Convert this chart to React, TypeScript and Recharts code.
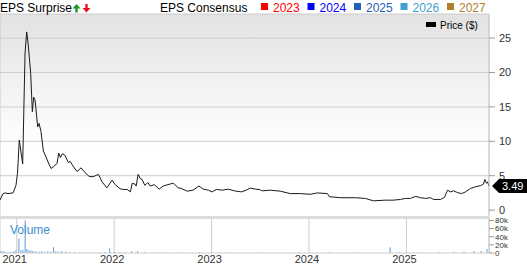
import { ComposedChart, Line, Bar, XAxis, YAxis, CartesianGrid } from 'recharts';

// price, decimal year -> $ close
const priceDates = [
  2020.828, 2020.859, 2020.879, 2020.91, 2020.962, 2020.992, 2021.008, 2021.026, 2021.061, 2021.085,
  2021.102, 2021.116, 2021.143, 2021.16, 2021.174, 2021.188, 2021.215, 2021.229, 2021.249, 2021.273,
  2021.301, 2021.321, 2021.352, 2021.376, 2021.414, 2021.431, 2021.448, 2021.468, 2021.493, 2021.53,
  2021.547, 2021.578, 2021.619, 2021.66, 2021.691, 2021.743, 2021.784, 2021.838, 2021.876, 2021.925,
  2021.979, 2022.01, 2022.061, 2022.092, 2022.133, 2022.167, 2022.185, 2022.212, 2022.226, 2022.246,
  2022.267, 2022.287, 2022.315, 2022.346, 2022.37, 2022.411, 2022.462, 2022.503, 2022.575, 2022.609,
  2022.657, 2022.688, 2022.75, 2022.811, 2022.87, 2022.914, 2022.966, 2023.007, 2023.048, 2023.11,
  2023.171, 2023.233, 2023.305, 2023.356, 2023.397, 2023.449, 2023.49, 2023.521, 2023.603, 2023.706,
  2023.808, 2023.911, 2024.014, 2024.086, 2024.189, 2024.209, 2024.322, 2024.476, 2024.579, 2024.661,
  2024.785, 2024.867, 2024.939, 2024.99, 2025.042, 2025.093, 2025.144, 2025.196, 2025.247, 2025.278,
  2025.35, 2025.391, 2025.422, 2025.453, 2025.483, 2025.525, 2025.566, 2025.607, 2025.658, 2025.71,
  2025.761, 2025.792, 2025.805, 2025.823, 2025.833, 2025.848,
];
const priceValues = [
  1.45, 2.4, 2.5, 2.4, 2.5, 3.6, 5.4, 10.2, 6.7, 22.8,
  25.9, 24.3, 19.9, 14.3, 16.4, 16.0, 12.1, 12.6, 11.4, 8.6,
  7.7, 7.0, 6.05, 6.3, 6.8, 8.3, 7.65, 8.2, 8.0, 6.9,
  7.1, 6.4, 5.6, 6.15, 5.6, 4.9, 4.85, 5.2, 4.1, 3.25,
  4.35, 3.7, 3.1, 3.0, 3.0, 2.65, 3.9, 3.8, 3.5, 5.2,
  4.6, 4.45, 3.6, 4.0, 3.5, 3.7, 3.05, 3.5, 3.8, 3.9,
  3.25, 3.15, 2.75, 2.9, 3.5, 3.05, 2.9, 2.65, 3.0, 2.9,
  3.05, 2.8, 2.65, 2.9, 3.2, 3.05, 3.0, 2.8, 2.9, 2.75,
  2.4, 2.4, 2.3, 2.5, 2.4, 1.95, 1.8, 1.8, 1.7, 1.35,
  1.45, 1.45, 1.55, 1.7, 1.7, 2.0, 1.8, 1.7, 1.8, 1.55,
  1.55, 1.85, 2.9, 2.65, 2.8, 2.55, 2.4, 2.65, 3.15, 3.4,
  3.55, 3.8, 4.45, 3.9, 4.1, 3.49,
];

// volume (shares)
const volumeDates = [
  2020.841, 2020.862, 2020.882, 2020.913, 2020.944, 2020.974, 2020.995, 2021.026, 2021.046, 2021.067,
  2021.09, 2021.108, 2021.128, 2021.149, 2021.169, 2021.2, 2021.231, 2021.261, 2021.292, 2021.323,
  2021.354, 2021.381, 2021.405, 2021.435, 2021.466, 2021.507, 2021.548, 2021.599, 2021.651, 2021.702,
  2021.753, 2021.804, 2021.856, 2021.907, 2021.958, 2022.009, 2022.061, 2022.112, 2022.183, 2022.245,
  2022.317, 2022.419, 2022.522, 2022.675, 2022.88, 2023.188, 2023.495, 2023.905, 2024.212, 2024.52,
  2024.837, 2024.929, 2025.134, 2025.339, 2025.493, 2025.595, 2025.698, 2025.77, 2025.831,
];
const volumeValues = [
  4000, 5000, 3000, 2000, 3000, 4000, 6000, 35000, 6000, 8000,
  80000, 10000, 7000, 6000, 5000, 4000, 3000, 4000, 3000, 4000,
  3000, 14000, 4000, 3000, 5000, 3000, 2000, 2000, 2000, 2000,
  1000, 2000, 1000, 2000, 11000, 2000, 1000, 1000, 4000, 4000,
  2000, 1000, 1000, 1000, 1000, 1000, 1000, 1000, 2000, 1000,
  14000, 1000, 1000, 2000, 3000, 3000, 4000, 5000, 10000,
];

const yearTicks = [2021, 2022, 2023, 2024, 2025];
const priceTicks = [0, 5, 10, 15, 20, 25];
const volumeTicks = [0, 20000, 40000, 60000, 80000];
const consensusYears = ['2023', '2024', '2025', '2026', '2027'];
const consensusColors = ['#ff0000', '#0000ff', '#1f5fb4', '#3ea2d4', '#b07f30'];

const priceData = priceDates.map((t, i) => ({ t, price: priceValues[i] }));
const volumeData = volumeDates.map((t, i) => ({ t, volume: volumeValues[i] }));
const xDomain = [2020.828, 2025.848];
const font = '"Liberation Sans", Arial, sans-serif';

function PriceTag(props: any) {
  const { x, y, index } = props;
  if (index !== priceValues.length - 1) return null;
  return (
    <g>
      <polygon
        points={`${x + 3},${y} ${x + 10},${y - 7} ${x + 38},${y - 7} ${x + 38},${y + 7} ${x + 10},${y + 7}`}
        fill="#000"
      />
      <text x={x + 13} y={y + 4} fill="#fff" fontSize={11} fontFamily={font}>
        {priceValues[priceValues.length - 1].toFixed(2)}
      </text>
    </g>
  );
}

export default function App() {
  return (
    <div style={{ position: 'absolute', left: 0, top: 0, width: 527, height: 264, background: '#fff', fontFamily: font }}>
      <div style={{ position: 'absolute', left: 0, top: 0 }}>
        <ComposedChart width={527} height={217} data={priceData} margin={{ top: 14, right: 0, left: 0, bottom: 0 }}>
          <defs>
            <linearGradient id="bg" x1="0" y1="0" x2="0" y2="1">
              <stop offset="0%" stopColor="#e2e2e2" />
              <stop offset="65%" stopColor="#ffffff" />
              <stop offset="100%" stopColor="#ffffff" />
            </linearGradient>
          </defs>
          <CartesianGrid stroke="#cccccc" fill="url(#bg)" />
          <XAxis
            dataKey="t"
            type="number"
            orientation="top"
            domain={xDomain}
            ticks={yearTicks}
            height={0}
            tick={false}
            tickLine={false}
            axisLine={{ stroke: '#cccccc' }}
          />
          <YAxis
            orientation="right"
            width={38}
            domain={[-1, 28.5]}
            ticks={priceTicks}
            tickSize={6}
            tickMargin={4}
            axisLine={{ stroke: '#cccccc' }}
            tickLine={{ stroke: '#999' }}
            tick={{ fontSize: 11, fill: '#333', fontFamily: font }}
          />
          <Line
            dataKey="price"
            type="linear"
            stroke="#1a1a1a"
            strokeWidth={1}
            dot={false}
            isAnimationActive={false}
            label={<PriceTag />}
          />
        </ComposedChart>
      </div>
      <div style={{ position: 'absolute', left: 0, top: 216, width: 489, height: 2.5, background: '#dcdcdc' }} />
      <div style={{ position: 'absolute', left: 0, top: 216 }}>
        <ComposedChart width={527} height={48} data={volumeData} margin={{ top: 2, right: 0, left: 0, bottom: 0 }}>
          <CartesianGrid stroke="#cccccc" horizontal={false} />
          <XAxis
            dataKey="t"
            type="number"
            domain={xDomain}
            ticks={yearTicks}
            height={11}
            tickSize={0}
            tickMargin={2}
            tickLine={false}
            axisLine={{ stroke: '#cccccc' }}
            tick={{ fontSize: 11, fill: '#333', fontFamily: font, dx: -2 }}
          />
          <YAxis
            orientation="right"
            width={38}
            domain={[0, 86000]}
            ticks={volumeTicks}
            tickFormatter={(v: number) => (v === 0 ? '0' : `${v / 1000}k`)}
            tickSize={5}
            tickMargin={1}
            axisLine={{ stroke: '#cccccc' }}
            tickLine={{ stroke: '#999' }}
            tick={{ fontSize: 8, fill: '#333', fontFamily: font }}
            interval={0}
          />
          <Bar dataKey="volume" fill="#5a9bd8" barSize={1} isAnimationActive={false} />
        </ComposedChart>
      </div>
      <svg width={527} height={264} style={{ position: 'absolute', left: 0, top: 0, pointerEvents: 'none' }} fontFamily={font}>
        <text x={0} y={12} fontSize={12} fill="#000">EPS Surprise</text>
        <polygon points="76.5,4 72.5,8.5 75.3,8.5 75.3,12.5 77.7,12.5 77.7,8.5 80.5,8.5" fill="#1a9a1a" />
        <polygon points="86.5,12.5 82.5,8 85.3,8 85.3,4 87.7,4 87.7,8 90.5,8" fill="#e8141a" />
        <text x={160} y={12} fontSize={12} fill="#000">EPS Consensus</text>
        {consensusYears.map((yr, i) => (
          <g key={yr}>
            <rect x={261 + i * 46.5} y={3} width={7} height={7} fill={consensusColors[i]} />
            <text x={273 + i * 46.5} y={12} fontSize={12} fill={consensusColors[i]}>{yr}</text>
          </g>
        ))}
        <rect x={426} y={22} width={10} height={5} fill="#000" />
        <text x={440} y={29} fontSize={10} fill="#000">Price ($)</text>
        <text x={10} y={234} fontSize={12} fill="#3d8fd1">Volume</text>
      </svg>
    </div>
  );
}
